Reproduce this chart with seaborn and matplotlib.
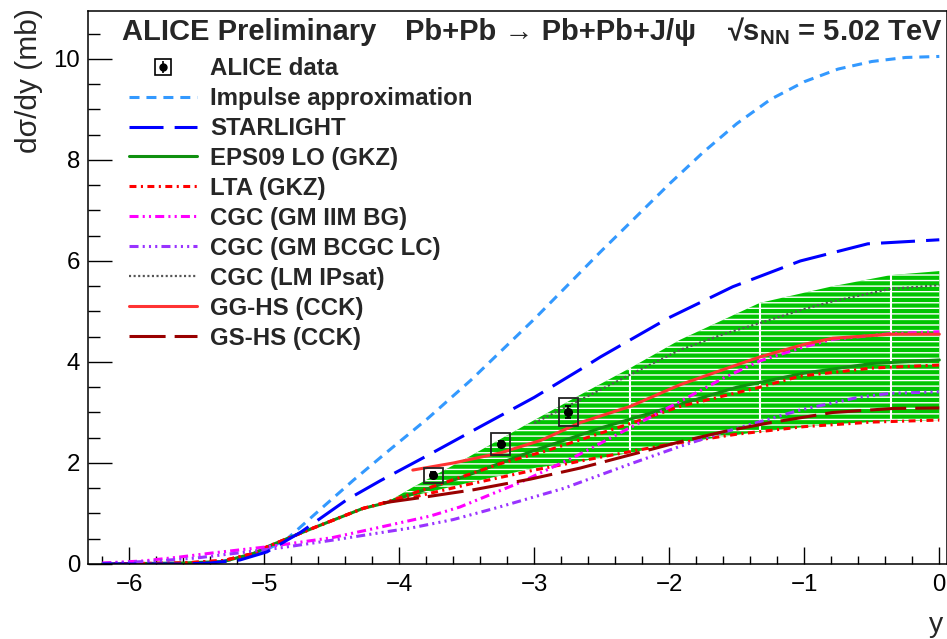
import numpy as np
import pandas as pd
import matplotlib
matplotlib.use("Agg")
import matplotlib.pyplot as plt
import seaborn as sns
from matplotlib.lines import Line2D
from matplotlib.patches import Rectangle
from matplotlib.legend_handler import HandlerTuple

# ---------------- data ----------------
alice_x = [-3.75, -3.25, -2.75]
alice_y = [1.76, 2.38, 3.01]
alice_stat = [0.06, 0.06, 0.12]
alice_sys = [0.15, 0.22, 0.28]

ia_x = [-6.2, -5.6, -5.4, -5.2, -5.0, -4.83, -4.59, -4.34, -4.09, -3.79, -3.47, -3.0, -2.51, -1.99, -1.75, -1.5, -1.25, -1.0, -0.75, -0.5, -0.25, 0.0]
ia_y = [0.0, 0.0, 0.03, 0.1, 0.26, 0.5, 1.07, 1.66, 2.22, 2.88, 3.64, 4.85, 6.18, 7.55, 8.15, 8.72, 9.2, 9.55, 9.8, 9.95, 10.03, 10.05]

sl_x = [-6.2, -5.6, -5.4, -5.18, -4.98, -4.73, -4.39, -4.14, -3.79, -3.4, -3.0, -2.66, -2.51, -2.0, -1.53, -1.03, -0.53, 0.0]
sl_y = [0.0, 0.0, 0.02, 0.08, 0.24, 0.63, 1.27, 1.65, 2.15, 2.72, 3.3, 3.85, 4.1, 4.88, 5.49, 6.0, 6.34, 6.42]

band_x = [-4.1, -3.9, -3.5, -3.0, -2.66, -2.29, -1.92, -1.33, -0.79, -0.36, 0.0]
band_hi = [1.21, 1.52, 2.1, 2.85, 3.35, 3.88, 4.44, 5.17, 5.5, 5.72, 5.8]
band_lo = [1.21, 1.35, 1.6, 1.9, 2.03, 2.2, 2.4, 2.62, 2.77, 2.83, 2.85]

eps_x = [-6.2, -5.6, -5.3, -5.08, -4.98, -4.64, -4.27, -4.1, -3.5, -3.0, -2.5, -2.0, -1.5, -1.0, -0.5, 0.0]
eps_y = [0.0, 0.02, 0.05, 0.21, 0.34, 0.71, 1.1, 1.21, 1.75, 2.25, 2.7, 3.1, 3.5, 3.78, 3.97, 4.04]

lta_hi_x = [-6.2, -5.6, -5.3, -5.08, -4.98, -4.64, -4.27, -4.1, -3.9, -3.4, -3.26, -2.9, -2.29, -1.92, -1.33, -1.03, -0.5, 0.0]
lta_hi_y = [0.0, 0.02, 0.07, 0.21, 0.34, 0.71, 1.1, 1.22, 1.4, 1.85, 1.98, 2.25, 2.78, 3.12, 3.5, 3.72, 3.88, 3.94]
lta_lo_x = [-6.2, -5.6, -5.3, -5.08, -4.98, -4.64, -4.27, -4.1, -3.9, -3.5, -3.0, -2.5, -2.0, -1.5, -1.0, -0.5, 0.0]
lta_lo_y = [0.0, 0.02, 0.07, 0.21, 0.34, 0.71, 1.1, 1.22, 1.32, 1.57, 1.86, 2.12, 2.37, 2.57, 2.72, 2.81, 2.85]

iim_x = [-6.2, -5.9, -5.62, -5.38, -4.98, -4.5, -4.14, -3.77, -3.55, -3.1, -2.68, -2.29, -1.94, -1.6, -1.33, -1.0, -0.79, -0.36, 0.0]
iim_y = [0.02, 0.06, 0.14, 0.22, 0.34, 0.52, 0.73, 0.95, 1.13, 1.62, 2.15, 2.7, 3.19, 3.68, 4.02, 4.3, 4.45, 4.56, 4.6]

bcgc_x = [-6.2, -5.8, -5.5, -4.88, -4.5, -4.14, -3.9, -3.6, -3.27, -2.78, -2.29, -1.92, -1.57, -1.03, -0.6, -0.36, 0.0]
bcgc_y = [0.01, 0.06, 0.12, 0.32, 0.47, 0.62, 0.72, 0.88, 1.12, 1.5, 1.98, 2.33, 2.63, 3.05, 3.3, 3.38, 3.41]

ipsat_x = [-3.0, -2.66, -2.51, -2.29, -1.92, -1.6, -1.33, -1.0, -0.79, -0.36, 0.0]
ipsat_y = [2.79, 3.25, 3.45, 3.75, 4.24, 4.55, 4.77, 5.05, 5.2, 5.45, 5.52]

gghs_x = [-3.9, -3.6, -3.25, -2.95, -2.66, -2.29, -1.92, -1.6, -1.33, -1.0, -0.79, -0.36, 0.0]
gghs_y = [1.86, 2.0, 2.2, 2.45, 2.8, 3.12, 3.55, 3.85, 4.1, 4.35, 4.47, 4.55, 4.55]

gshs_x = [-4.12, -3.8, -3.45, -3.03, -2.66, -2.29, -1.92, -1.6, -1.27, -0.79, -0.34, 0.0]
gshs_y = [1.21, 1.33, 1.47, 1.68, 1.9, 2.16, 2.42, 2.62, 2.79, 3.0, 3.08, 3.09]

x_ticks = [-6, -5, -4, -3, -2, -1, 0]
y_ticks = [0, 2, 4, 6, 8, 10]

labels = ["ALICE data", "Impulse approximation", "STARLIGHT", "EPS09 LO (GKZ)",
          "LTA (GKZ)", "CGC (GM IIM BG)", "CGC (GM BCGC LC)", "CGC (LM IPsat)",
          "GG-HS (CCK)", "GS-HS (CCK)"]

# ---------------- style ----------------
sns.set_style("ticks")
plt.rcParams["font.family"] = ["Liberation Sans", "DejaVu Sans"]
plt.rcParams["mathtext.fontset"] = "custom"
plt.rcParams["mathtext.rm"] = "Liberation Sans"
plt.rcParams["mathtext.bf"] = "Liberation Sans:bold"
plt.rcParams["mathtext.it"] = "Liberation Sans:italic"
plt.rcParams["lines.scale_dashes"] = False
plt.rcParams["hatch.linewidth"] = 1.0

W, H = 947, 639
fig = plt.figure(figsize=(W / 100, H / 100), dpi=100)
ax_l, ax_r, ax_t, ax_b = 88, 947, 11, 564
ax = fig.add_axes([ax_l / W, 1 - ax_b / H, (ax_r - ax_l) / W, (ax_b - ax_t) / H])

LW = 2.2
styles = {
    "Impulse approximation": dict(color="#3399ff", lw=LW, ls=(0, (7.2, 5.0))),
    "STARLIGHT": dict(color="#0000ff", lw=LW, ls=(0, (24.5, 8.0))),
    "EPS09 LO (GKZ)": dict(color="#109010", lw=LW, ls="-"),
    "LTA (GKZ)": dict(color="#ff0000", lw=LW, ls=(0, (5.0, 3.2, 1.5, 3.2))),
    "CGC (GM IIM BG)": dict(color="#ff00ff", lw=LW, ls=(0, (6.5, 3.0, 1.5, 3.0, 1.5, 3.0))),
    "CGC (GM BCGC LC)": dict(color="#9933ff", lw=LW, ls=(0, (6.5, 3.0, 1.5, 3.0, 1.5, 3.0, 1.5, 3.0))),
    "CGC (LM IPsat)": dict(color="#555555", lw=1.6, ls=(0, (1.5, 1.8))),
    "GG-HS (CCK)": dict(color="#ff3333", lw=LW, ls="-"),
    "GS-HS (CCK)": dict(color="#990000", lw=LW, ls=(0, (26.0, 6.5))),
}

# EPS09 band (green with white horizontal hatch)
ax.fill_between(band_x, band_lo, band_hi, facecolor="#00c400", edgecolor="white",
                hatch="---", linewidth=0, zorder=1)
seam_idx = [5, 7, 9]
ax.vlines([band_x[i] for i in seam_idx], [band_lo[i] for i in seam_idx],
          [band_hi[i] for i in seam_idx], colors="white", lw=1.5, zorder=1.5)

curves = [
    ("Impulse approximation", ia_x, ia_y),
    ("EPS09 LO (GKZ)", eps_x, eps_y),
    ("LTA (GKZ)", lta_hi_x, lta_hi_y),
    ("LTA (GKZ)", lta_lo_x, lta_lo_y),
    ("CGC (GM IIM BG)", iim_x, iim_y),
    ("CGC (GM BCGC LC)", bcgc_x, bcgc_y),
    ("CGC (LM IPsat)", ipsat_x, ipsat_y),
    ("GG-HS (CCK)", gghs_x, gghs_y),
    ("GS-HS (CCK)", gshs_x, gshs_y),
    ("STARLIGHT", sl_x, sl_y),
]
for name, xs, ys in curves:
    st = styles[name]
    df = pd.DataFrame({"x": xs, "y": ys})
    sns.lineplot(data=df, x="x", y="y", ax=ax, estimator=None, sort=False,
                 color=st["color"], linewidth=st["lw"], linestyle=st["ls"],
                 legend=False, zorder=2)

# ALICE data: systematic boxes + stat error bars
box_hw = 0.07
for xv, yv, sv in zip(alice_x, alice_y, alice_sys):
    ax.add_patch(Rectangle((xv - box_hw, yv - sv), 2 * box_hw, 2 * sv, fill=False,
                           edgecolor="#222222", lw=1.3, zorder=3))
ax.errorbar(alice_x, alice_y, yerr=alice_stat, fmt="o", color="black", ms=5.5,
            elinewidth=1.3, capsize=2.5, capthick=1.3, zorder=4)

# axes
ax.set_xlim(-6.306, 0.057)
ax.set_ylim(0, 10.95)
ax.set_xticks(x_ticks)
ax.set_yticks(y_ticks)
ax.set_xticklabels([f"\u2212{abs(v)}" if v < 0 else f"{v}" for v in x_ticks])
ax.set_xticks(np.arange(-6.2, 0.01, 0.2), minor=True)
ax.set_yticks(np.arange(0, 10.96, 0.5), minor=True)
ax.tick_params(axis="both", which="both", direction="in", colors="black", width=1.0,
               labelsize=17.3, top=False, right=False)
ax.tick_params(axis="x", which="major", length=12.2, pad=7)
ax.tick_params(axis="x", which="minor", length=5.8)
ax.tick_params(axis="y", which="major", length=17.3, pad=5.5)
ax.tick_params(axis="y", which="minor", length=8.6)
for sp in ax.spines.values():
    sp.set_visible(True)
    sp.set_color("black")
    sp.set_linewidth(1.1)
ax.set_facecolor("white")

ax.set_ylabel("d\u03c3/dy (mb)", fontsize=21.5, loc="top")
ax.yaxis.set_label_coords((43 - ax_l) / (ax_r - ax_l), 1.0 + 3 / (ax_b - ax_t))
ax.set_xlabel("y", fontsize=20.5)
ax.xaxis.set_label_coords((943 - ax_l) / (ax_r - ax_l), -(612 - ax_b) / (ax_b - ax_t))
ax.xaxis.label.set_horizontalalignment("right")

# header
hdr_y = 1 - 40 / H
fig.text(122 / W, hdr_y, "ALICE Preliminary", fontsize=21, fontweight="bold", va="baseline")
fig.text(405 / W, hdr_y, "Pb+Pb \u2192 Pb+Pb+J/\u03c8", fontsize=21, fontweight="bold", va="baseline")
fig.text(943 / W, hdr_y, "\u221a$\\mathbf{s}_{\\mathbf{NN}}$ = 5.02 TeV", fontsize=21,
         fontweight="bold", va="baseline", ha="right")

# legend
alice_handle = (
    Line2D([], [], ls="", marker="s", ms=11, mfc="none", mec="black", mew=1.2),
    Line2D([], [], ls="", marker="o", ms=5, color="black"),
    Line2D([], [], ls="", marker="|", ms=9, mew=1.2, color="black"),
)
handles = [alice_handle]
for name in labels[1:]:
    st = styles[name]
    handles.append(Line2D([], [], color=st["color"], lw=st["lw"], ls=st["ls"]))
leg = ax.legend(handles, labels, loc="upper left",
                bbox_to_anchor=(129 / W, 1 - 57 / H), bbox_transform=fig.transFigure,
                frameon=False, borderpad=0, borderaxespad=0, handlelength=2.83,
                handletextpad=0.54, labelspacing=0.29,
                prop=dict(family=["Liberation Sans", "DejaVu Sans"], weight="bold", size=17.3),
                handler_map={tuple: HandlerTuple(ndivide=1, pad=0)})

fig.savefig("out.png", dpi=100)
